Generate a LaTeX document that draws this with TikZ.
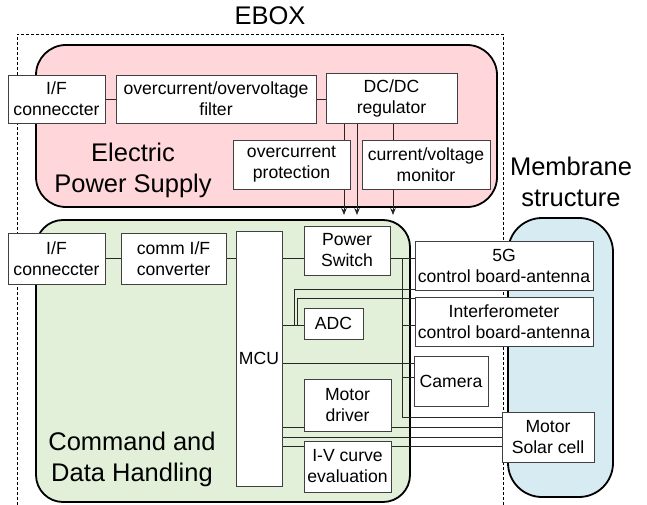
\documentclass[tikz,border=0pt]{standalone}
\usepackage{fontspec}
\setmainfont{Liberation Sans}
\usetikzlibrary{arrows.meta}
\definecolor{epsfill}{RGB}{255,215,218}
\definecolor{cdhfill}{RGB}{226,240,217}
\definecolor{memfill}{RGB}{214,236,242}
\pgfdeclarelayer{contl}
\pgfdeclarelayer{wirel}
\pgfsetlayers{contl,wirel,main}
\begin{document}
\begin{tikzpicture}[x=1pt,y=-1pt,
  blk/.style={draw=black!75, fill=white, line width=0.9pt, inner sep=1pt, align=center, font=\fontsize{17.6}{21}\selectfont},
  big/.style={align=center, font=\fontsize{25.5}{31}\selectfont, inner sep=0pt},
  cont/.style={draw=black, line width=1.8pt, inner sep=0pt},
  wire/.style={draw=black!85, line width=0.9pt},
  arr/.style={wire, -{Stealth[length=7pt,width=5.5pt]}}]
\useasboundingbox (0,0) rectangle (647,505);

% ---- boxes ----
\node[blk, minimum width=97pt, minimum height=48pt] (ifa) at (56.5,99) {I/F\\conneccter};
\node[blk, minimum width=200pt, minimum height=48pt] (filt) at (216,99) {overcurrent/overvoltage\\filter};
\node[blk, minimum width=131pt, minimum height=50pt] (dcdc) at (391.5,98) {DC/DC\\regulator};
\node[blk, minimum width=117pt, minimum height=49pt] (ocp) at (291.5,164.5) {overcurrent\\protection};
\node[blk, minimum width=128pt, minimum height=49pt] (cvm) at (426,164.5) {current/voltage\\monitor};

\node[blk, minimum width=97pt, minimum height=51pt] (ifb) at (56.5,258.5) {I/F\\conneccter};
\node[blk, minimum width=105pt, minimum height=51pt] (comm) at (173.5,258.5) {comm I/F\\converter};
\node[blk, minimum width=46pt, minimum height=255pt] (mcu) at (259,358.5) {MCU};
\node[blk, minimum width=86pt, minimum height=49pt] (psw) at (347,250.5) {Power\\Switch};
\node[blk, minimum width=59pt, minimum height=31pt] (adc) at (333.5,323.5) {ADC};
\node[blk, minimum width=87pt, minimum height=52pt] (mdrv) at (347.5,405) {Motor\\driver};
\node[blk, minimum width=87pt, minimum height=51pt] (ivc) at (347.5,466.5) {I-V curve\\evaluation};
\node[blk, minimum width=178pt, minimum height=49pt] (g5) at (504,265.5) {5G\\control board-antenna};
\node[blk, minimum width=178pt, minimum height=49pt] (intf) at (504,321.5) {Interferometer\\control board-antenna};
\node[blk, minimum width=74pt, minimum height=50pt] (cam) at (451,381) {Camera};
\node[blk, minimum width=92pt, minimum height=50pt] (msc) at (548,437) {Motor\\Solar cell};

% ---- titles ----
\node[big] (ebox) at (270,16) {EBOX};
\node[big] (epst) at (133,170) {Electric\\Power Supply};
\node[big] (cdht) at (132,459) {Command and\\Data Handling};
\node[big] (memt) at (571,182) {Membrane\\structure};

% ---- containers ----
\begin{pgfonlayer}{contl}
\node[cont, fill=epsfill, rounded corners=30pt, minimum width=461pt, minimum height=162pt] (eps) at (266.5,126) {};
\node[cont, fill=cdhfill, rounded corners=27pt, minimum width=374pt, minimum height=282pt] (cdh) at (223,361) {};
\node[cont, fill=memfill, rounded corners=34pt, minimum width=105pt, minimum height=279pt] (mem) at (560.5,357.5) {};
\end{pgfonlayer}

% ---- wires ----
\begin{pgfonlayer}{wirel}
\draw[line width=0.9pt, dash pattern=on 3pt off 2pt] (17,505) -- (17,34) -- (503,34) -- (503,505);

\draw[wire] (ifa.east |- 0,99) -- (filt.west |- 0,99);
\draw[wire] (filt.east |- 0,99) -- (dcdc.west |- 0,99);
\coordinate (a1) at (344,215);
\coordinate (a2) at (357,215);
\coordinate (a3) at (393,215);
\draw[arr] (dcdc.south -| a1) -- (a1);
\draw[arr] (dcdc.south -| a2) -- (a2);
\draw[arr] (dcdc.south -| a3) -- (a3);

\draw[wire] (ifb.east |- 0,258) -- (comm.west |- 0,258);
\draw[wire] (comm.east |- 0,258) -- (mcu.west |- 0,258);
\draw[wire] (mcu.east |- 0,258) -- (psw.west |- 0,258);
\draw[wire] (psw.east |- 0,258) -- (g5.west |- 0,258);

\coordinate (busT) at (402,258);
\coordinate (busB) at (402,417);
\draw[wire] (busT) -- (busB) -- (msc.west |- busB);
\draw[wire] (busT |- 0,325) -- (intf.west |- 0,325);
\draw[wire] (busT |- 0,377) -- (cam.west |- 0,377);

\draw[wire] (mcu.east |- 0,325) -- (adc.west |- 0,325);
\coordinate (j1) at (294,325);
\coordinate (j2) at (297,325);
\draw[wire] (j1) -- (j1 |- 0,289) -- (g5.west |- 0,289);
\draw[wire] (j2) -- (j2 |- 0,298) -- (intf.west |- 0,298);

\draw[wire] (mcu.east |- 0,363) -- (cam.west |- 0,363);
\draw[wire] (mcu.east |- 0,427) -- (mdrv.west |- 0,427);
\draw[wire] (mdrv.east |- 0,427) -- (msc.west |- 0,427);
\draw[wire] (mcu.east |- 0,437) -- (msc.west |- 0,437);
\draw[wire] (mcu.east |- 0,446) -- (ivc.west |- 0,446);
\draw[wire] (ivc.east |- 0,446) -- (msc.west |- 0,446);
\end{pgfonlayer}
\end{tikzpicture}
\end{document}
